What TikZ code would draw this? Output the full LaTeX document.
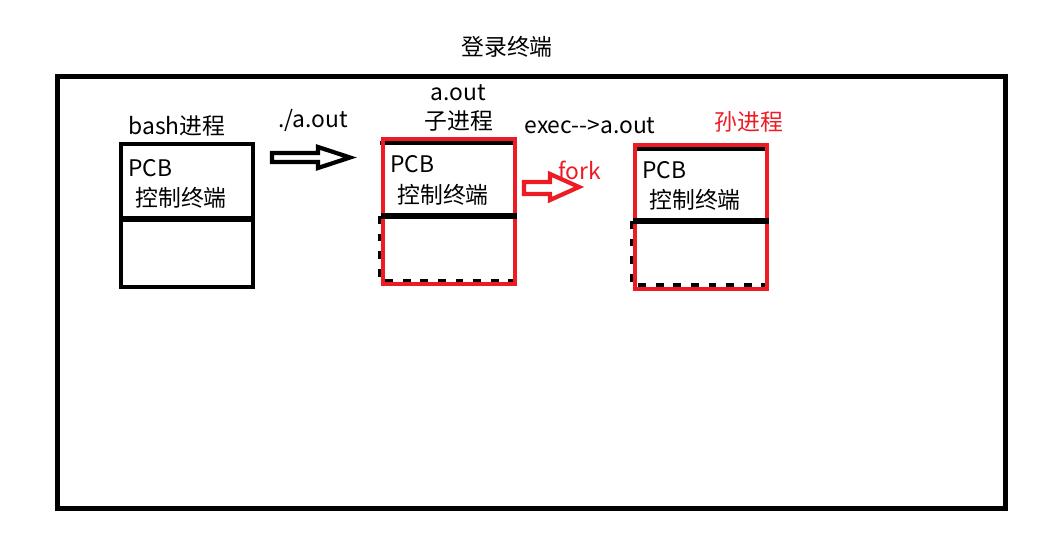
\documentclass[tikz,border=0pt]{standalone}
\usepackage{fontspec}
\setmainfont{Noto Sans CJK SC}
\definecolor{paintred}{RGB}{237,28,36}

\begin{document}
\begin{tikzpicture}[
x=0.02cm, y=-0.02cm,
every node/.style={font=\fontsize{13}{15}\selectfont, inner sep=0pt},
proc/.style={draw, line width=2.6pt, minimum width=2.64cm, minimum height=2.86cm},
redproc/.style={proc, draw=paintred},
divider/.style={line width=3.8pt},
ghost/.style={line width=2pt, dash pattern=on 4.5pt off 5.5pt},
blockarrow/.style={line width=2.4pt, line join=miter}
]
\useasboundingbox (0,0) rectangle (1049,550);

% login terminal
\node (title) at (507,47) {登录终端};
\draw[line width=2.83pt] (57.5,76.5) rectangle (1005.5,508.5);

% bash process
\node (bashlbl) at (177,126) {bash进程};
\node[proc, minimum height=2.86cm] (bash) at (187,215.5) {};
\draw[divider] (bash.west |- 0,219) -- (bash.east |- 0,219);
\node[anchor=west] (pcbA) at (128,168) {PCB};
\node[anchor=west] (termA) at (135,198) {控制终端};

% ./a.out
\node (run) at (313,120) {./a.out};
\draw[blockarrow] (272,153) -- (318,153) -- (318,147) -- (350,157.5)
  -- (318,168) -- (318,162) -- (272,162) -- cycle;

% child process
\node (outlbl) at (458,93) {a.out};
\node (childlbl) at (459,121) {子进程};
\draw[line width=2pt] (380,143) -- (513,143);
\draw[ghost] (380,216) -- (380,281) -- (513,281);
\node[redproc, minimum height=2.9cm] (child) at (449,211.5) {};
\draw[divider] (child.west |- 0,216) -- (child.east |- 0,216);
\node[anchor=west] (pcbB) at (390,164) {PCB};
\node[anchor=west] (termB) at (397,195) {控制终端};

% fork
\node[text=paintred] (fork) at (580,170) {fork};
\draw[blockarrow, paintred] (524,182) -- (550,182) -- (550,174) -- (579,187)
  -- (550,200) -- (550,194) -- (524,194) -- cycle;
\node (exec) at (590,126) {exec-{}->a.out};

% grandchild process
\node[text=paintred] (grandlbl) at (749,122) {孙进程};
\draw[line width=2pt] (635,149) -- (765,149);
\draw[ghost] (632,221) -- (632,285) -- (765,285);
\node[redproc, minimum height=2.88cm] (grand) at (701,217) {};
\draw[divider] (grand.west |- 0,221) -- (grand.east |- 0,221);
\node[anchor=west] (pcbC) at (642,170) {PCB};
\node[anchor=west] (termC) at (649,200) {控制终端};
\end{tikzpicture}
\end{document}
